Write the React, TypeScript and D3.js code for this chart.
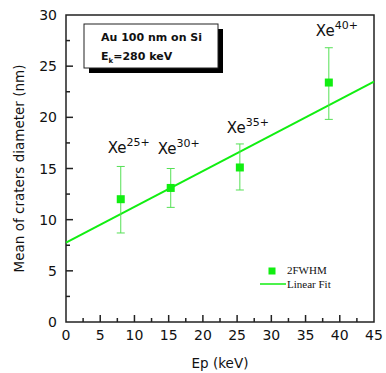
import { useEffect, useRef } from 'react'
import * as d3 from 'd3'

// energies (keV), mean crater diameter (nm), error bar bounds
const ions = ['25', '30', '35', '40']
const energies = [8.0, 15.3, 25.4, 38.4]
const diameters = [12.0, 13.1, 15.1, 23.4]
const errLow = [8.7, 11.2, 12.9, 19.8]
const errHigh = [15.2, 15.0, 17.4, 26.8]
const fitEnds = [[0, 7.75], [45, 23.5]]
const xTicks = [0, 5, 10, 15, 20, 25, 30, 35, 40, 45]
const yTicks = [0, 5, 10, 15, 20, 25, 30]
// label offsets (in px) relative to each point's top of error bar
const labelDy = [-13, -15, -11, -12]

const GREEN = '#11ee11'
const FONT = 'DejaVu Sans, Verdana, sans-serif'

export default function App() {
  const svgRef = useRef<SVGSVGElement>(null)

  useEffect(() => {
    if (!svgRef.current) return
    const svg = d3.select(svgRef.current)
    svg.selectAll('*').remove()

    const margin = { top: 15, right: 12, bottom: 51, left: 66 }
    const W = 386, H = 373
    const width = W - margin.left - margin.right
    const height = H - margin.top - margin.bottom

    const x = d3.scaleLinear().domain([0, 45]).range([0, width])
    const y = d3.scaleLinear().domain([0, 30]).range([height, 0])

    const g = svg.append('g').attr('transform', `translate(${margin.left},${margin.top})`)

    // ticks (inward)
    const minorX = d3.range(2.5, 45, 5)
    const minorY = d3.range(2.5, 30, 5)
    g.selectAll('.xt').data(xTicks.slice(1, -1)).enter().append('line')
      .attr('x1', d => x(d)).attr('x2', d => x(d)).attr('y1', height).attr('y2', height - 7)
      .attr('stroke', '#222').attr('stroke-width', 1.5)
    g.selectAll('.xm').data(minorX).enter().append('line')
      .attr('x1', d => x(d)).attr('x2', d => x(d)).attr('y1', height).attr('y2', height - 4)
      .attr('stroke', '#222').attr('stroke-width', 1.5)
    g.selectAll('.yt').data(yTicks.slice(1, -1)).enter().append('line')
      .attr('x1', 0).attr('x2', 7).attr('y1', d => y(d)).attr('y2', d => y(d))
      .attr('stroke', '#222').attr('stroke-width', 1.5)
    g.selectAll('.ym').data(minorY).enter().append('line')
      .attr('x1', 0).attr('x2', 4).attr('y1', d => y(d)).attr('y2', d => y(d))
      .attr('stroke', '#222').attr('stroke-width', 1.5)

    // frame
    g.append('rect').attr('width', width).attr('height', height)
      .attr('fill', 'none').attr('stroke', '#222').attr('stroke-width', 1.5)

    // tick labels
    g.selectAll('.xl').data(xTicks).enter().append('text')
      .attr('x', d => x(d)).attr('y', height + 18)
      .attr('text-anchor', 'middle').style('font-family', FONT).style('font-size', '14px')
      .attr('fill', '#111').text(d => d)
    g.selectAll('.yl').data(yTicks).enter().append('text')
      .attr('x', -9).attr('y', d => y(d)).attr('dy', '0.36em')
      .attr('text-anchor', 'end').style('font-family', FONT).style('font-size', '14px')
      .attr('fill', '#111').text(d => d)

    // axis titles
    g.append('text').attr('x', width / 2).attr('y', height + 46)
      .attr('text-anchor', 'middle').style('font-family', FONT).style('font-size', '13.5px')
      .attr('fill', '#111').text('Ep (keV)')
    g.append('text').attr('transform', `translate(${-42},${height / 2}) rotate(-90)`)
      .attr('text-anchor', 'middle').style('font-family', FONT).style('font-size', '13.5px')
      .attr('fill', '#111').text('Mean of craters diameter (nm)')

    // linear fit
    g.append('line')
      .attr('x1', x(fitEnds[0][0])).attr('y1', y(fitEnds[0][1]))
      .attr('x2', x(fitEnds[1][0])).attr('y2', y(fitEnds[1][1]))
      .attr('stroke', GREEN).attr('stroke-width', 2)

    // error bars
    const eb = g.selectAll('.eb').data(energies).enter().append('g')
    eb.append('line').attr('x1', d => x(d)).attr('x2', d => x(d))
      .attr('y1', (d, i) => y(errLow[i])).attr('y2', (d, i) => y(errHigh[i]))
      .attr('stroke', '#55e055').attr('stroke-width', 1)
    eb.append('line').attr('x1', d => x(d) - 4).attr('x2', d => x(d) + 4)
      .attr('y1', (d, i) => y(errLow[i])).attr('y2', (d, i) => y(errLow[i]))
      .attr('stroke', '#55e055').attr('stroke-width', 1)
    eb.append('line').attr('x1', d => x(d) - 4).attr('x2', d => x(d) + 4)
      .attr('y1', (d, i) => y(errHigh[i])).attr('y2', (d, i) => y(errHigh[i]))
      .attr('stroke', '#55e055').attr('stroke-width', 1)

    // points
    g.selectAll('.pt').data(energies).enter().append('rect')
      .attr('x', d => x(d) - 4).attr('y', (d, i) => y(diameters[i]) - 4)
      .attr('width', 8).attr('height', 8).attr('fill', GREEN)

    // ion labels
    const lab = g.selectAll('.lab').data(energies).enter().append('text')
      .attr('x', d => x(d) - 13)
      .attr('y', (d, i) => y(errHigh[i]) + labelDy[i])
      .style('font-family', FONT).style('font-size', '15px')
      .attr('fill', '#111')
    lab.append('tspan').text('Xe')
    lab.append('tspan').attr('dy', -7).style('font-size', '11px').text((d, i) => `${ions[i]}+`)

    // info box with shadow
    const bx = 84 - margin.left, by = 24 - margin.top
    g.append('rect').attr('x', bx + 5).attr('y', by + 5).attr('width', 134).attr('height', 44).attr('fill', '#000')
    g.append('rect').attr('x', bx).attr('y', by).attr('width', 134).attr('height', 44)
      .attr('fill', '#fff').attr('stroke', '#222').attr('stroke-width', 1)
    g.append('text').attr('x', bx + 17).attr('y', by + 17)
      .style('font-family', FONT).style('font-size', '11px').style('font-weight', 'bold')
      .attr('fill', '#111').text('Au 100 nm on Si')
    const ek = g.append('text').attr('x', bx + 17).attr('y', by + 36)
      .style('font-family', FONT).style('font-size', '11px').style('font-weight', 'bold').attr('fill', '#111')
    ek.append('tspan').text('E')
    ek.append('tspan').attr('dy', 3).style('font-size', '7px').text('k')
    ek.append('tspan').attr('dy', -3).text('=280 keV')

    // legend
    const lx = 272 - margin.left, ly = 271 - margin.top
    g.append('rect').attr('x', lx - 3.5).attr('y', ly - 3.5).attr('width', 7).attr('height', 7).attr('fill', GREEN)
    g.append('text').attr('x', lx + 15).attr('y', ly + 3)
      .style('font-family', 'Liberation Serif, serif').style('font-size', '11px').attr('fill', '#111').text('2FWHM')
    g.append('line').attr('x1', lx - 12).attr('x2', lx + 14).attr('y1', ly + 13).attr('y2', ly + 13)
      .attr('stroke', GREEN).attr('stroke-width', 1.5)
    g.append('text').attr('x', lx + 15).attr('y', ly + 16.5)
      .style('font-family', 'Liberation Serif, serif').style('font-size', '11px').attr('fill', '#111').text('Linear Fit')
  }, [])

  return (
    <svg ref={svgRef} width={386} height={373}
      style={{ position: 'absolute', left: 0, top: 0, background: '#fff' }} />
  )
}
